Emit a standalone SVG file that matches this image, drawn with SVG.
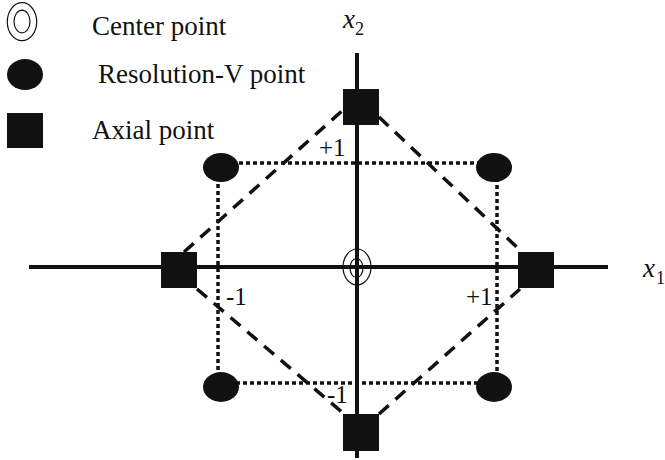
<svg xmlns="http://www.w3.org/2000/svg" width="665" height="460" viewBox="0 0 665 460">
<style>
.t{font-family:"Liberation Serif","Times New Roman",serif;fill:#111}
.lg{font-size:27px}
.num{font-size:25px}
.var{font-size:27px;font-style:italic}
.sub{font-size:18px}
.axis{stroke:#111;stroke-width:4;fill:none}
.dot{stroke:#111;stroke-width:3.5;stroke-dasharray:4 3;fill:none}
.dash{stroke:#111;stroke-width:3.5;stroke-dasharray:13 9;fill:none}
.fill{fill:#111}
.ring{fill:none;stroke:#111;stroke-width:1.2}
</style>
<rect width="665" height="460" fill="#fff"/>
<g id="legend">
  <ellipse class="ring" cx="22" cy="21.7" rx="14.7" ry="19"/>
  <ellipse class="ring" cx="22" cy="21.5" rx="8" ry="11.3"/>
  <text class="t lg" x="92" y="35">Center point</text>
  <ellipse class="fill" cx="25" cy="74.5" rx="18" ry="15.5"/>
  <text class="t lg" x="98" y="83">Resolution-V point</text>
  <rect class="fill" x="7" y="113" width="36" height="35"/>
  <text class="t lg" x="92" y="139">Axial point</text>
</g>
<g id="connectors">
  <line class="axis" x1="29" y1="267" x2="608" y2="267"/>
  <line class="axis" x1="357" y1="53" x2="357" y2="458"/>
  <rect class="dot" x="218" y="163" width="279" height="220"/>
  <line class="dash" x1="184" y1="252" x2="343" y2="110"/>
  <line class="dash" x1="379" y1="117" x2="522" y2="252"/>
  <line class="dash" x1="197" y1="289" x2="343" y2="413"/>
  <line class="dash" x1="379" y1="414" x2="520" y2="289"/>
</g>
<g id="axis-labels">
  <text class="t var" x="343" y="28">x</text>
  <text class="t sub" x="355" y="35">2</text>
  <text class="t var" x="643" y="277">x</text>
  <text class="t sub" x="656" y="284">1</text>
</g>
<g id="center">
  <ellipse class="ring" cx="357" cy="267" rx="14" ry="18"/>
  <ellipse class="ring" cx="356.5" cy="268" rx="6.5" ry="9.5"/>
</g>
<g id="res-v-points">
  <ellipse class="fill" cx="221" cy="167.5" rx="18" ry="14.5"/>
  <ellipse class="fill" cx="494" cy="167.5" rx="18" ry="14.5"/>
  <ellipse class="fill" cx="221" cy="387" rx="18" ry="15"/>
  <ellipse class="fill" cx="494" cy="387" rx="18" ry="15"/>
</g>
<g id="axial-points">
  <rect class="fill" x="343" y="89" width="36" height="36"/>
  <rect class="fill" x="343" y="414" width="36" height="37"/>
  <rect class="fill" x="161" y="252" width="36" height="36"/>
  <rect class="fill" x="518" y="252" width="36" height="36"/>
</g>
<g id="level-labels">
  <text class="t num" x="319" y="156">+1</text>
  <text class="t num" x="226" y="305">-1</text>
  <text class="t num" x="466" y="305">+1</text>
  <text class="t num" x="327" y="403">-1</text>
</g>
</svg>
